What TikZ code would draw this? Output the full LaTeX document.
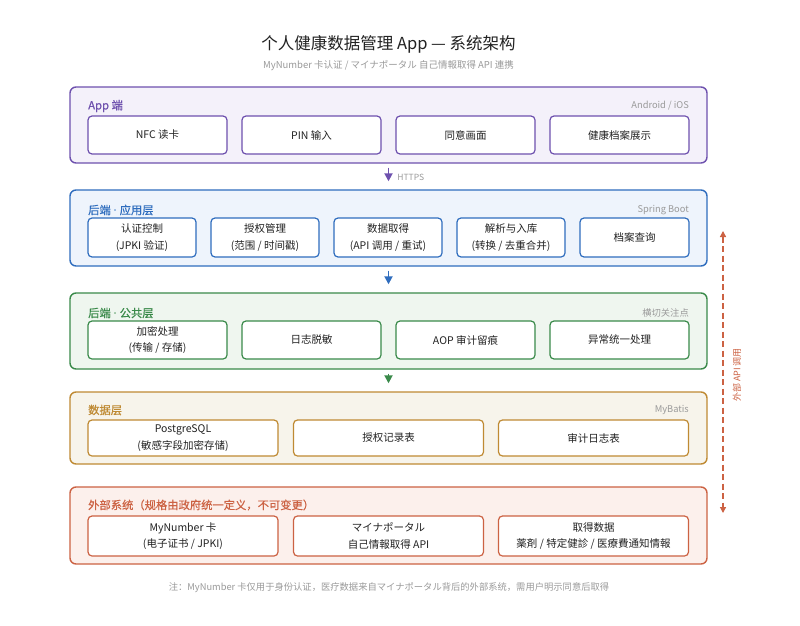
\documentclass[tikz,border=0pt]{standalone}
\usepackage{fontspec}
\setmainfont{Noto Sans CJK SC}
\newfontfamily\headfont{Noto Sans CJK SC}[FakeBold=0.6]
\newfontfamily\dotfont{Noto Sans}
\usetikzlibrary{arrows.meta,positioning}

\definecolor{appc}{HTML}{6E51AE}
\definecolor{appf}{HTML}{F4F1FA}
\definecolor{svcc}{HTML}{2F6DBE}
\definecolor{svcf}{HTML}{EEF4FC}
\definecolor{comc}{HTML}{3A8A4A}
\definecolor{comf}{HTML}{EFF6EF}
\definecolor{datc}{HTML}{BF8A33}
\definecolor{datf}{HTML}{F7F4EB}
\definecolor{extc}{HTML}{CC6243}
\definecolor{extf}{HTML}{FCF0EC}
\definecolor{inkc}{HTML}{222222}
\definecolor{mutec}{HTML}{9A9A9A}

\newcommand{\middot}{{\dotfont\ ·\ }}

\tikzset{
  layer/.style 2 args={draw=#1, fill=#2, rounded corners=6pt, line width=1.4pt,
    minimum width=637pt, minimum height=76pt, inner sep=0pt},
  cell/.style={draw=#1, fill=white, rounded corners=4pt, line width=1.2pt,
    minimum height=38pt, align=center, inner sep=1pt, text=inkc,
    font=\fontsize{10.5}{16.5}\selectfont},
  head/.style={anchor=west, inner sep=0pt, text=#1, font=\fontsize{11.3}{13}\selectfont\headfont},
  tag/.style={anchor=east, inner sep=0pt, text=mutec, font=\fontsize{9.3}{10}\selectfont},
  flow/.style={draw=#1, line width=1.8pt, -{Triangle[width=8pt,length=8pt]},
    shorten <=4pt, shorten >=8pt},
}

\begin{document}
\begin{tikzpicture}[x=1pt,y=-1pt]
  \path[fill=white,use as bounding box] (0,0) rectangle (800,626);

  %%% Title
  \node[text=inkc, font=\fontsize{16.5}{19}\selectfont] (title) at (388.5,44) {个人健康数据管理 App — 系统架构};
  \node[text=mutec, font=\fontsize{9.5}{11}\selectfont] (subtitle) at (388.5,66) {MyNumber 卡认证 / マイナポータル 自己情報取得 API 連携};

  %%% App
  \node[layer={appc}{appf}] (app) at (388.5,125) {};
  \node[head=appc] (apphead) at (88,106) {App 端};
  \node[tag] (apptag) at (689,106) {Android / iOS};
  \node[cell=appc, minimum width=139pt] (nfc) at (157.5,135) {NFC 读卡};
  \node[cell=appc, minimum width=139pt] (pin) at (311.5,135) {PIN 输入};
  \node[cell=appc, minimum width=139pt] (consent) at (465.5,135) {同意画面};
  \node[cell=appc, minimum width=139pt] (record) at (619.5,135) {健康档案展示};

  %%% Backend service
  \node[layer={svcc}{svcf}] (svc) at (388.5,228) {};
  \node[head=svcc] (svchead) at (88,210) {后端\middot 应用层};
  \node[tag] (svctag) at (689,210) {Spring Boot};
  \node[cell=svcc, minimum width=108pt, minimum height=39pt] (auth) at (142,237.5) {认证控制\\(JPKI 验证)};
  \node[cell=svcc, minimum width=108pt, minimum height=39pt] (grant) at (265,237.5) {授权管理\\(范围 / 时间戳)};
  \node[cell=svcc, minimum width=108pt, minimum height=39pt] (fetch) at (388,237.5) {数据取得\\(API 调用 / 重试)};
  \node[cell=svcc, minimum width=108pt, minimum height=39pt] (parse) at (511,237.5) {解析与入库\\(转换 / 去重合并)};
  \node[cell=svcc, minimum width=109pt, minimum height=39pt] (query) at (634.5,237.5) {档案查询};

  %%% Backend common
  \node[layer={comc}{comf}] (com) at (388.5,331) {};
  \node[head=comc] (comhead) at (88,313) {后端\middot 公共层};
  \node[tag] (comtag) at (689,313) {横切关注点};
  \node[cell=comc, minimum width=139pt] (crypt) at (157.5,340) {加密处理\\(传输 / 存储)};
  \node[cell=comc, minimum width=139pt] (mask) at (311.5,340) {日志脱敏};
  \node[cell=comc, minimum width=139pt] (aop) at (465.5,340) {AOP 审计留痕};
  \node[cell=comc, minimum width=139pt] (error) at (619.5,340) {异常统一处理};

  %%% Data
  \node[layer={datc}{datf}, minimum height=72pt] (dat) at (388.5,428) {};
  \node[head=datc] (dathead) at (88,410) {数据层};
  \node[tag] (dattag) at (689,410) {MyBatis};
  \node[cell=datc, minimum width=190pt, minimum height=36pt] (pg) at (183,438) {PostgreSQL\\(敏感字段加密存储)};
  \node[cell=datc, minimum width=190pt, minimum height=36pt] (granttbl) at (388.5,438) {授权记录表};
  \node[cell=datc, minimum width=190pt, minimum height=36pt] (audittbl) at (593.5,438) {审计日志表};

  %%% External
  \node[layer={extc}{extf}, minimum height=77pt] (ext) at (388.5,525.5) {};
  \node[head=extc] (exthead) at (88,505) {外部系统（规格由政府统一定义，不可变更）};
  \node[cell=extc, minimum width=190pt, minimum height=40pt] (card) at (183,536) {MyNumber 卡\\(电子证书 / JPKI)};
  \node[cell=extc, minimum width=190pt, minimum height=40pt] (portal) at (388.5,536) {マイナポータル\\自己情報取得 API};
  \node[cell=extc, minimum width=190pt, minimum height=40pt] (items) at (593.5,536) {取得数据\\薬剤 / 特定健診 / 医療費通知情報};

  %%% Flows
  \draw[flow=appc] (app.south) -- (svc.north)
    node[midway, anchor=west, xshift=8pt, yshift=-1pt, inner sep=0pt, text=mutec, font=\fontsize{8.5}{10}\selectfont] (https) {HTTPS};
  \draw[flow=svcc] (svc.south) -- (com.north);
  \draw[flow=comc] (com.south) -- (dat.north);

  %%% External API call
  \coordinate (apitop) at (723,231);
  \coordinate (apibot) at (723,513);
  \draw[draw=extc, line width=1.3pt, dash pattern=on 6pt off 3.5pt,
    {Triangle[width=6pt,length=6pt]}-{Triangle[width=6pt,length=6pt]}] (apitop) -- (apibot);
  \node[rotate=90, text=extc, font=\fontsize{9}{10}\selectfont] (apilabel) at (737,375) {外部 API 调用};

  %%% Note
  \node[text=mutec, font=\fontsize{9.3}{11}\selectfont] (note) at (389,588) {注：MyNumber 卡仅用于身份认证，医疗数据来自マイナポータル背后的外部系统，需用户明示同意后取得};
\end{tikzpicture}
\end{document}
